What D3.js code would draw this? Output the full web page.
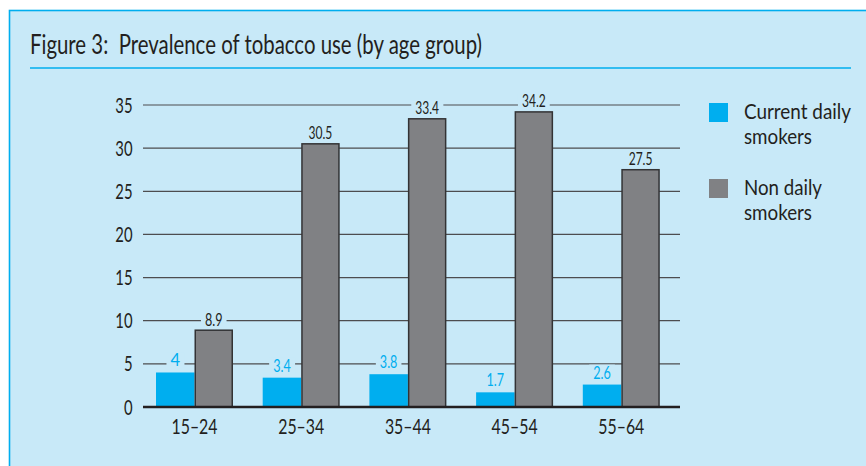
<!DOCTYPE html>
<html><head><meta charset="utf-8">
<script src="https://cdn.jsdelivr.net/npm/d3@7"></script>
<style>body{margin:0;background:#fff;} svg{display:block;font-family:Lato,"Open Sans",sans-serif;}</style>
</head><body>
<script>
const categories = ["15–24","25–34","35–44","45–54","55–64"];
const seriesNames = ["Current daily smokers","Non daily smokers"];
const currentDaily = [4, 3.4, 3.8, 1.7, 2.6];
const nonDaily = [8.9, 30.5, 33.4, 34.2, 27.5];
const yTicks = [0,5,10,15,20,25,30,35];
const labelsCurrent = ["4","3.4","3.8","1.7","2.6"];
const labelsNon = ["8.9","30.5","33.4","34.2","27.5"];

const W=866,H=466;
const panelBg="#c8e9f8", cyan="#00aeef", grey="#808184", dark="#231f20";
const svg=d3.select("body").append("svg").attr("width",W).attr("height",H);
svg.append("rect").attr("x",9.5).attr("y",10.5).attr("width",W).attr("height",H)
  .attr("fill",panelBg).attr("stroke",cyan).attr("stroke-width",1.6);
svg.append("line").attr("x1",30).attr("x2",851).attr("y1",68).attr("y2",68).attr("stroke",cyan).attr("stroke-width",1.6);
svg.append("text").attr("x",30).attr("y",54).attr("font-size",26).attr("fill",dark)
  .style("white-space","pre")
  .attr("textLength",452).attr("lengthAdjust","spacingAndGlyphs")
  .text("Figure 3:  Prevalence of tobacco use (by age group)");

const y=d3.scaleLinear().domain([0,35]).range([407,105]);
const x=d3.scaleBand().domain(categories).range([143,676.5]).paddingInner(0).paddingOuter(0);
const x1=d3.scaleBand().domain(seriesNames).range([13,90]);
const gridX1=143, gridX2=680;

// grid
const g=svg.append("g");
g.selectAll("line.grid").data(yTicks.filter(d=>d>0)).join("line")
  .attr("x1",gridX1).attr("x2",gridX2).attr("y1",d=>y(d)).attr("y2",d=>y(d))
  .attr("stroke","#4d4d4f").attr("stroke-width",1.2);
// y labels
g.selectAll("text.yt").data(yTicks).join("text")
  .attr("x",132.5).attr("y",d=>y(d)+7.5).attr("text-anchor","end")
  .attr("font-size",20.5).attr("fill",dark)
  .attr("textLength",d=>String(d).length*8.6).attr("lengthAdjust","spacingAndGlyphs")
  .text(d=>d);

const groups=svg.append("g").selectAll("g").data(categories).join("g")
  .attr("transform",d=>`translate(${x(d)},0)`);
// bars
groups.append("rect").attr("x",x1(seriesNames[0])).attr("width",x1.bandwidth())
  .attr("y",(d,i)=>y(currentDaily[i])).attr("height",(d,i)=>y(0)-y(currentDaily[i]))
  .attr("fill",cyan);
groups.append("rect").attr("x",x1(seriesNames[1])+0.75).attr("width",x1.bandwidth()-1.5)
  .attr("y",(d,i)=>y(nonDaily[i])).attr("height",(d,i)=>y(0)-y(nonDaily[i]))
  .attr("fill",grey).attr("stroke","#333335").attr("stroke-width",1.5);

// value labels with knockout background
function addLabel(sel, vals, labels, key, color, gap){
  sel.each(function(d,i){
    const gg=d3.select(this);
    const cx=x1(key)+x1.bandwidth()/2;
    const t=gg.append("text").attr("x",cx).attr("y",y(vals[i])-gap)
      .attr("text-anchor","middle").attr("font-size",16.5).attr("fill",color)
      .attr("textLength",labels[i].length>1?labels[i].length*6.2-1:null)
      .attr("lengthAdjust","spacingAndGlyphs").text(labels[i]);
    const bb=t.node().getBBox();
    gg.insert("rect","text").attr("x",bb.x-4).attr("y",bb.y+2).attr("width",bb.width+8).attr("height",bb.height-3)
      .attr("fill",panelBg);
  });
}
addLabel(groups, currentDaily, labelsCurrent, seriesNames[0], cyan, 6);
addLabel(groups, nonDaily, labelsNon, seriesNames[1], dark, 4.5);

// baseline
svg.append("line").attr("x1",gridX1).attr("x2",gridX2).attr("y1",y(0)).attr("y2",y(0))
  .attr("stroke",dark).attr("stroke-width",2.6);
// x labels
svg.append("g").selectAll("text").data(categories).join("text")
  .attr("x",d=>x(d)+x1(seriesNames[1])).attr("y",433.5).attr("text-anchor","middle")
  .attr("font-size",21).attr("fill",dark)
  .attr("textLength",46).attr("lengthAdjust","spacingAndGlyphs")
  .text(d=>d);

// legend
const leg=svg.append("g");
const legendLines=[["Current daily","smokers"],["Non daily","smokers"]];
const legendLens=[[107,68],[78,68]];
const legColors=[cyan,grey];
[0,1].forEach(i=>{
  const top=103+i*76;
  leg.append("rect").attr("x",709).attr("y",top).attr("width",19).attr("height",19).attr("fill",legColors[i]);
  legendLines[i].forEach((s,j)=>{
    leg.append("text").attr("x",744).attr("y",top+15.5+j*25.5).attr("font-size",20.5).attr("fill",dark)
      .attr("textLength",legendLens[i][j]).attr("lengthAdjust","spacingAndGlyphs").text(s);
  });
});
</script>
</body></html>
